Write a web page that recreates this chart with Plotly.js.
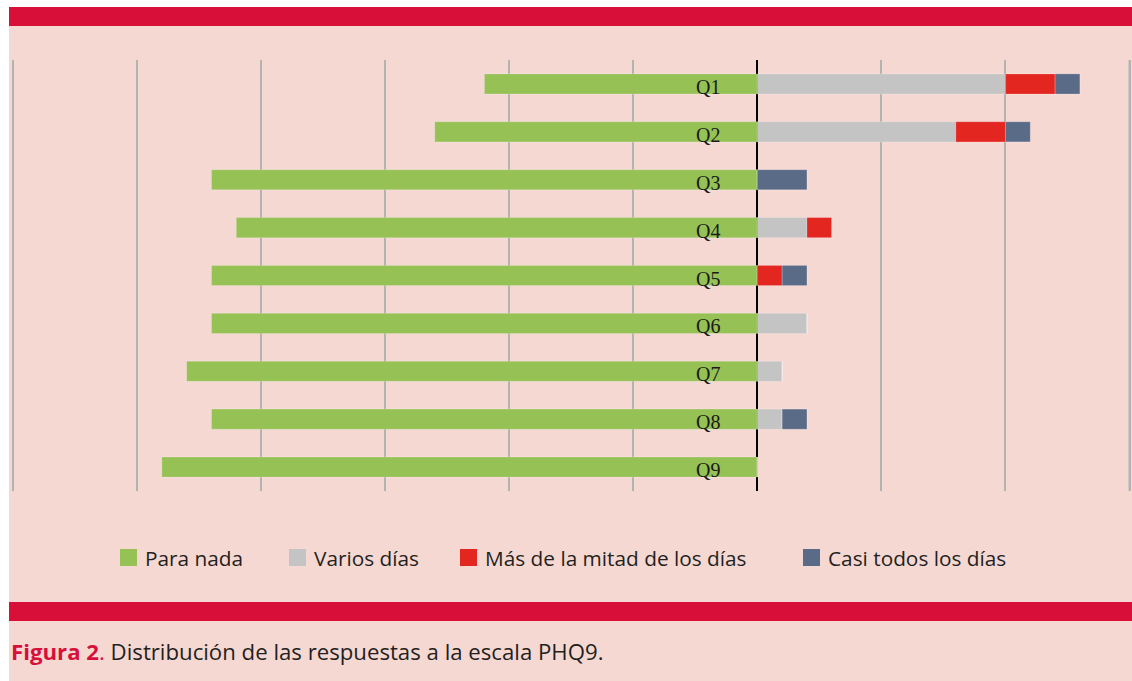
<!DOCTYPE html>
<html>
<head>
<meta charset="utf-8">
<script src="https://cdn.plot.ly/plotly-3.0.1.min.js"></script>
<style>html,body{margin:0;padding:0;background:#fff;overflow:hidden;}#chart{width:1132px;height:681px;}</style>
</head>
<body>
<div id="chart"></div>
<script>
// ---- data (counts of respondents, N = 24) ----
const questions = ["Q1","Q2","Q3","Q4","Q5","Q6","Q7","Q8","Q9"];
const paraNada   = [11, 13, 22, 21, 22, 22, 23, 22, 24];
const variosDias = [10,  8,  0,  2,  0,  2,  1,  1,  0];
const masMitad   = [ 2,  2,  0,  1,  1,  0,  0,  0,  0];
const casiTodos  = [ 1,  1,  2,  0,  1,  0,  0,  1,  0];
const seriesNames = ["Para nada","Varios días","Más de la mitad de los días","Casi todos los días"];
const seriesColors = ["#95C155","#C4C4C4","#E42621","#5A6B88"];

// ---- pixel helpers (plot area: x 10..1132, y 60..491) ----
const W = 1132, H = 681, L = 10, R = 0, T = 60, B = 190;
const PW = W - L - R, PH = H - T - B;
const px = v => (v - L) / PW;
const py = v => (H - B - v) / PH;

const barLine = {width: 0.6, color: "rgba(255,255,255,0.35)"};
const traces = [
  {name: seriesNames[0], x: paraNada.map(v => -v), marker: {color: seriesColors[0], line: barLine}},
  {name: seriesNames[1], x: variosDias, marker: {color: seriesColors[1], line: barLine}},
  {name: seriesNames[2], x: masMitad, marker: {color: seriesColors[2], line: barLine}},
  {name: seriesNames[3], x: casiTodos, marker: {color: seriesColors[3], line: barLine}}
].map(t => Object.assign(t, {type: "bar", orientation: "h", y: questions, hoverinfo: "skip", showlegend: false}));

const annotations = questions.map(q => ({
  xref: "x", yref: "y", x: 0, y: q, text: q, showarrow: false,
  xanchor: "right", yanchor: "middle", xshift: -35, yshift: -3,
  font: {family: "Liberation Serif, serif", size: 20, color: "#1a1a1a"}
}));
annotations.push({
  xref: "paper", yref: "paper", x: px(9), y: py(651), xanchor: "left", yanchor: "middle",
  showarrow: false,
  text: '<b><span style="color:#D6103A">Figura 2</span></b><span style="color:#D6103A">.</span> Distribución de las respuestas a la escala PHQ9.',
  font: {family: "Open Sans, sans-serif", size: 22.2, color: "#231f20"}
});

const shapes = [
  {type: "rect", xref: "paper", yref: "paper", x0: px(9), x1: px(1132), y0: py(681), y1: py(7),
   fillcolor: "#F6D8D3", line: {width: 0}, layer: "below"},
  {type: "rect", xref: "paper", yref: "paper", x0: px(9), x1: px(1132), y0: py(26), y1: py(7),
   fillcolor: "#D80F38", line: {width: 0}, layer: "below"},
  {type: "rect", xref: "paper", yref: "paper", x0: px(9), x1: px(1132), y0: py(621), y1: py(602),
   fillcolor: "#D80F38", line: {width: 0}, layer: "below"},
  // right-edge gridline at +15 (Plotly clips the edge grid line)
  {type: "line", xref: "x", yref: "paper", x0: 15, x1: 15, y0: 0, y1: 1,
   line: {color: "#B3B3B3", width: 2}, layer: "above"}
];

// ---- manual legend (square + label) ----
const legendX = [120, 289, 460, 803];
seriesNames.forEach((name, i) => {
  shapes.push({type: "rect", xref: "paper", yref: "paper",
    x0: px(legendX[i]), x1: px(legendX[i] + 17), y0: py(566), y1: py(549),
    fillcolor: seriesColors[i], line: {width: 0}});
  annotations.push({xref: "paper", yref: "paper", x: px(legendX[i] + 23), y: py(557.5),
    xanchor: "left", yanchor: "middle", showarrow: false, text: name,
    font: {family: "Open Sans, sans-serif", size: 20.8, color: "#231f20"}});
});

// x: -30 at px 13, +15 at px 1129.5
const k = (1129.5 - 13) / 45;
const xmin = -30 - (13 - L) / k;
const xmax = xmin + PW / k;

const layout = {
  width: W, height: H,
  margin: {l: L, r: R, t: T, b: B, pad: 0},
  paper_bgcolor: "#ffffff",
  plot_bgcolor: "rgba(0,0,0,0)",
  barmode: "relative",
  bargap: 0.58,
  showlegend: false,
  xaxis: {
    range: [xmin, xmax], dtick: 5, tick0: 0,
    showgrid: true, gridcolor: "#B3B3B3", gridwidth: 2,
    zeroline: true, zerolinecolor: "#000000", zerolinewidth: 2,
    showticklabels: false, ticks: "", showline: false, fixedrange: true
  },
  yaxis: {
    type: "category", categoryorder: "array", categoryarray: questions,
    range: [8.5, -0.5], showgrid: false, zeroline: false,
    showticklabels: false, ticks: "", showline: false, fixedrange: true
  },
  shapes: shapes,
  annotations: annotations
};

Plotly.newPlot("chart", traces, layout, {displayModeBar: false, staticPlot: true});
</script>
</body>
</html>
